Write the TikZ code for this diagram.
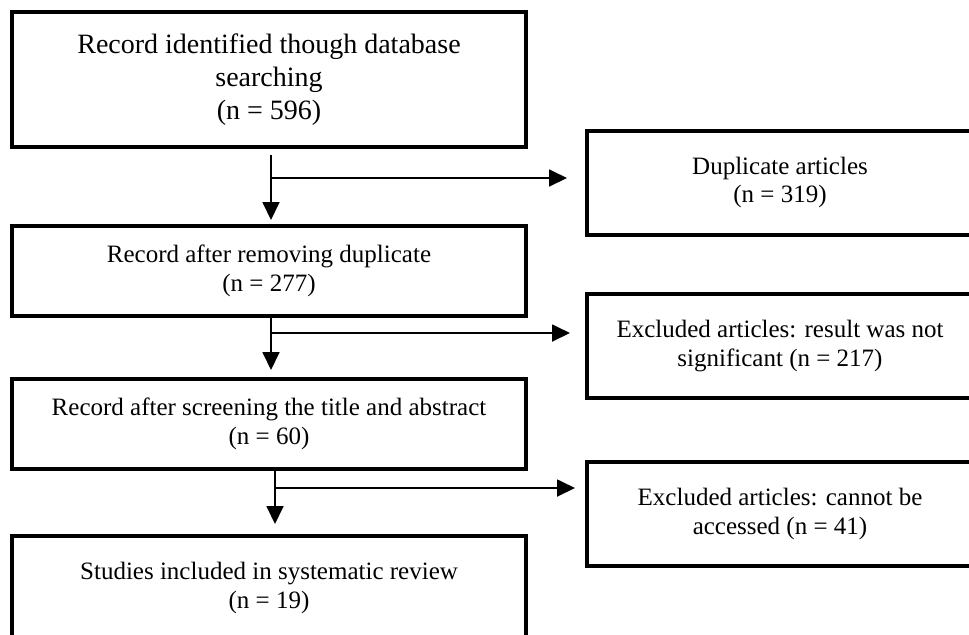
\documentclass[tikz,border=0pt]{standalone}
\usepackage{fontspec}
\setmainfont{Liberation Serif}
\usetikzlibrary{positioning, arrows.meta}

\begin{document}
\begin{tikzpicture}[x=0.5pt, y=-0.5pt,
  box/.style={draw, line width=2pt, outer sep=0pt, align=center,
    minimum width=257pt, font=\fontsize{12.5pt}{14.4pt}\selectfont},
  side box/.style={box, minimum width=193pt, minimum height=52pt},
  flow/.style={-{Triangle[length=9pt, width=8.5pt]}, line width=0.9pt}]
  \useasboundingbox (0,0) rectangle (969,634);

  \node[box, minimum height=67.5pt, font=\fontsize{14pt}{16.5pt}\selectfont]
  (identified) at (269,79.5)
  {Record identified though database\\searching\\(n = 596)};
  \node[box, minimum height=45pt, below=39.5pt of identified]  (removed)
  {Record after removing duplicate\\(n = 277)};
  \node[box, minimum height=45pt, below=31.5pt of removed]     (screened)
  {Record after screening the title and abstract\\(n = 60)};
  \node[box, minimum height=52pt, below=33.5pt of screened]    (included)
  {Studies included in systematic review\\(n = 19)};

  \node[side box] (duplicate)       at (780,182.5)
  {Duplicate articles\\(n = 319)};
  \node[side box] (not significant) at (780,346)
  {Excluded articles: result was not\\significant (n = 217)};
  \node[side box] (no access)       at (780,514)
  {Excluded articles: cannot be\\accessed (n = 41)};

  \coordinate (split 1) at (271,178);
  \coordinate (split 2) at (271,333);
  \coordinate (split 3) at (275,488);

  \draw[flow, shorten <=4pt, shorten >=3pt]
  ([xshift=1pt]identified.south) -- ([xshift=1pt]removed.north);
  \draw[flow, shorten >=4.5pt]
  ([xshift=1pt]removed.south) -- ([xshift=1pt]screened.north);
  \draw[flow, shorten >=6pt]
  ([xshift=3pt]screened.south) -- ([xshift=3pt]included.north);

  \draw[flow, shorten >=10pt]  (split 1) -- (split 1 -| duplicate.west);
  \draw[flow, shorten >=8.5pt] (split 2) -- (split 2 -| not significant.west);
  \draw[flow, shorten >=6pt]   (split 3) -- (split 3 -| no access.west);
\end{tikzpicture}
\end{document}
